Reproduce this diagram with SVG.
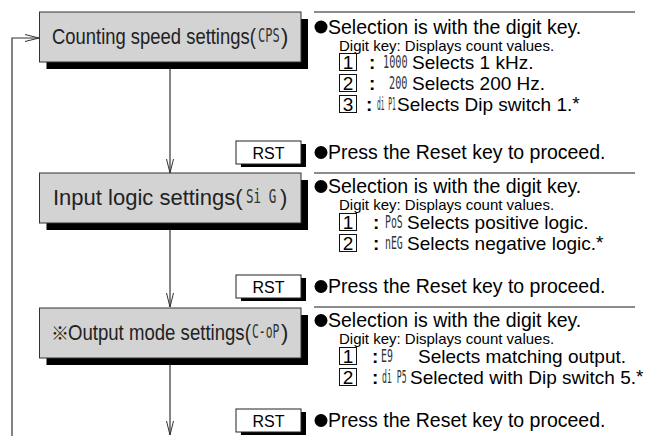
<svg xmlns="http://www.w3.org/2000/svg" width="647" height="436" viewBox="0 0 647 436">
<style>
.box{fill:#d3d3d3;stroke:#333;stroke-width:1}
.sh{fill:#000}
.rst{fill:#fff;stroke:#222;stroke-width:1}
.key{fill:#fff;stroke:#111;stroke-width:1}
.lbl{font-family:"Liberation Sans",Arial,sans-serif;font-size:22px;fill:#222}
.mark{font-family:"Noto Sans CJK JP","DejaVu Sans",sans-serif;font-size:18px;fill:#222}
.seg{font-family:"DejaVu Sans Mono","Liberation Mono",monospace;fill:#333}
.bseg{font-size:20px}
.rseg{font-size:17px}
.t{font-family:"Liberation Sans",Arial,sans-serif;fill:#000}
.main{font-size:19.5px}
.sm{font-size:15px}
.row{font-size:19px}
.kd{font-size:19px;text-anchor:middle}
.col{font-weight:bold;font-size:19px}
.rt{font-family:"Liberation Sans",Arial,sans-serif;font-size:16px;text-anchor:middle;fill:#000}
.sep{stroke:#666;stroke-width:1.5;fill:none}
.con{stroke:#333;stroke-width:1.2;fill:none}
</style>
<defs>
<marker id="arr" viewBox="0 0 14 8" refX="14" refY="4" markerWidth="14" markerHeight="8" markerUnits="userSpaceOnUse" orient="auto">
<path d="M0,0.5 L14,4 L0,7.5" fill="none" stroke="#333" stroke-width="1"/>
</marker>
</defs>

<g id="connectors">
<path class="con" d="M170,62 V173" marker-end="url(#arr)"/>
<path class="con" d="M170,223 V307" marker-end="url(#arr)"/>
<path class="con" d="M170,358 V435" marker-end="url(#arr)"/>
<path class="con" d="M12,436 V38 H39" marker-end="url(#arr)"/>
</g>

<g id="separators">
<line class="sep" x1="314" y1="12" x2="635" y2="12"/>
<line class="sep" x1="314" y1="173" x2="635" y2="173"/>
<line class="sep" x1="314" y1="307" x2="635" y2="307"/>
</g>

<g id="node-cps">
<rect class="sh" x="46.5" y="19" width="261.5" height="50"/>
<rect class="box" x="39.5" y="12" width="261.5" height="50"/>
<text class="lbl" transform="translate(52,44) scale(0.838,1)">Counting speed settings(</text>
<text class="seg bseg" transform="translate(258,42) scale(0.6,1)">CPS</text>
<text class="lbl" x="281" y="44">)</text>
</g>

<g id="node-sig">
<rect class="sh" x="46.5" y="180" width="261.5" height="50"/>
<rect class="box" x="39.5" y="173" width="261.5" height="50"/>
<text class="lbl" x="53" y="205">Input logic settings(</text>
<text class="seg bseg" transform="translate(246,203) scale(0.63,1)">Si G</text>
<text class="lbl" x="280" y="205">)</text>
</g>

<g id="node-cop">
<rect class="sh" x="46.5" y="315" width="261.5" height="50"/>
<rect class="box" x="39.5" y="308" width="261.5" height="50"/>
<text class="mark" x="51" y="340">※</text>
<text class="lbl" transform="translate(68,340) scale(0.845,1)">Output mode settings(</text>
<text class="seg bseg" transform="translate(252,338) scale(0.57,1)">C-oP</text>
<text class="lbl" x="281" y="340">)</text>
</g>

<g id="rst-1">
<rect class="sh" x="241" y="144" width="65" height="23"/>
<rect class="rst" x="236" y="141" width="65" height="23"/>
<text class="rt" x="268.5" y="158.5">RST</text>
</g>
<g id="rst-2">
<rect class="sh" x="241" y="278" width="65" height="23"/>
<rect class="rst" x="236" y="275" width="65" height="23"/>
<text class="rt" x="268.5" y="292.5">RST</text>
</g>
<g id="rst-3">
<rect class="sh" x="241" y="412" width="65" height="23"/>
<rect class="rst" x="236" y="409" width="65" height="23"/>
<text class="rt" x="268.5" y="426.5">RST</text>
</g>

<g id="desc-1">
<circle cx="321" cy="27" r="6.5"/>
<text class="t main" x="328" y="33.5">Selection is with the digit key.</text>
<text class="t sm" x="339" y="51">Digit key: Displays count values.</text>
<rect class="key" x="339.5" y="53.5" width="17" height="17"/>
<text class="t kd" x="348" y="69">1</text>
<text class="t col" x="369" y="69">:</text>
<text class="seg rseg" transform="translate(383,68) scale(0.6,1)">1000</text>
<text class="t row" x="412" y="69">Selects 1 kHz.</text>
<rect class="key" x="339.5" y="74.5" width="17" height="17"/>
<text class="t kd" x="348" y="90">2</text>
<text class="t col" x="369" y="90">:</text>
<text class="seg rseg" transform="translate(389,89) scale(0.6,1)">200</text>
<text class="t row" x="412" y="90">Selects 200 Hz.</text>
<rect class="key" x="339.5" y="95.5" width="17" height="17"/>
<text class="t kd" x="348" y="111">3</text>
<text class="t col" x="366" y="111">:</text>
<text class="seg rseg" transform="translate(377,110) scale(0.37,1)">di P1</text>
<text class="t row" x="397" y="111">Selects Dip switch 1.<tspan dy="-1">*</tspan></text>
<circle cx="321" cy="152.5" r="6.5"/>
<text class="t main" x="328" y="159">Press the Reset key to proceed.</text>
</g>

<g id="desc-2">
<circle cx="321" cy="186.5" r="6.5"/>
<text class="t main" x="328" y="193">Selection is with the digit key.</text>
<text class="t sm" x="339" y="210">Digit key: Displays count values.</text>
<rect class="key" x="339.5" y="213.5" width="17" height="17"/>
<text class="t kd" x="348" y="229">1</text>
<text class="t col" x="373" y="229">:</text>
<text class="seg rseg" transform="translate(385,228) scale(0.58,1)">PoS</text>
<text class="t row" x="407" y="229">Selects positive logic.</text>
<rect class="key" x="339.5" y="234.5" width="17" height="17"/>
<text class="t kd" x="348" y="250">2</text>
<text class="t col" x="373" y="250">:</text>
<text class="seg rseg" transform="translate(385,249) scale(0.58,1)">nEG</text>
<text class="t row" x="407" y="250">Selects negative logic.<tspan dy="-1">*</tspan></text>
<circle cx="321" cy="286.5" r="6.5"/>
<text class="t main" x="328" y="293">Press the Reset key to proceed.</text>
</g>

<g id="desc-3">
<circle cx="321" cy="320.5" r="6.5"/>
<text class="t main" x="328" y="327">Selection is with the digit key.</text>
<text class="t sm" x="339" y="344">Digit key: Displays count values.</text>
<rect class="key" x="339.5" y="347.5" width="17" height="17"/>
<text class="t kd" x="348" y="363">1</text>
<text class="t col" x="372" y="363">:</text>
<text class="seg rseg" transform="translate(381,362) scale(0.58,1)">E9</text>
<text class="t row" x="418" y="363">Selects matching output.</text>
<rect class="key" x="339.5" y="368.5" width="17" height="17"/>
<text class="t kd" x="348" y="384">2</text>
<text class="t col" x="372" y="384">:</text>
<text class="seg rseg" transform="translate(382,383) scale(0.48,1)">di P5</text>
<text class="t row" x="410" y="384">Selected with Dip switch 5.<tspan dy="-1">*</tspan></text>
<circle cx="321" cy="420.5" r="6.5"/>
<text class="t main" x="328" y="427">Press the Reset key to proceed.</text>
</g>
</svg>
